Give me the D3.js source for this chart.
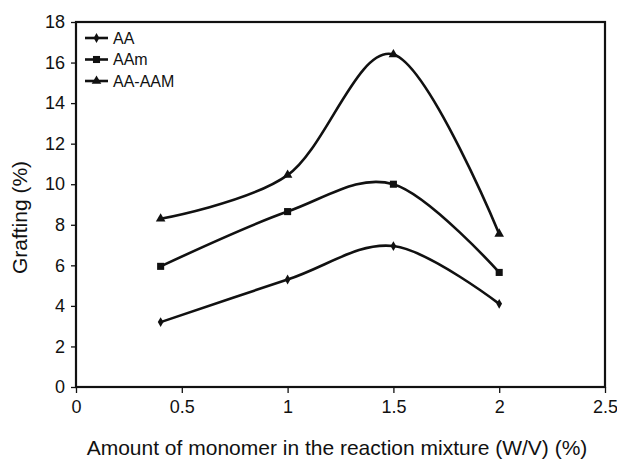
<!DOCTYPE html>
<html>
<head>
<meta charset="utf-8">
<script src="https://cdn.jsdelivr.net/npm/d3@7"></script>
<style>
  body { margin: 0; background: #fff; }
  text { font-family: "Liberation Sans", Arial, sans-serif; fill: #111; }
</style>
</head>
<body>
<div id="chart"></div>
<script>
// values
const monomer = [0.4, 1, 1.5, 2];
const aa = [3.2, 5.3, 6.95, 4.1];
const aam = [5.95, 8.65, 10.0, 5.65];
const aaAam = [8.3, 10.45, 16.4, 7.55];
const seriesNames = ["AA", "AAm", "AA-AAM"];
const xTicks = [0, 0.5, 1, 1.5, 2, 2.5];
const yTicks = [0, 2, 4, 6, 8, 10, 12, 14, 16, 18];

const width = 617, height = 468;
const margin = { top: 22, right: 12, bottom: 81, left: 76 };

const svg = d3.select("#chart").append("svg")
  .attr("width", width)
  .attr("height", height);

const x = d3.scaleLinear().domain([0, 2.5])
  .range([margin.left, width - margin.right]);
const y = d3.scaleLinear().domain([0, 18])
  .range([height - margin.bottom, margin.top]);

// axes
const xAxis = d3.axisBottom(x).tickValues(xTicks).tickSize(6).tickPadding(7)
  .tickFormat(d3.format("~g"));
const yAxis = d3.axisLeft(y).tickValues(yTicks).tickSize(5).tickPadding(6);

const gx = svg.append("g")
  .attr("transform", `translate(0,${height - margin.bottom})`)
  .call(xAxis);
const gy = svg.append("g")
  .attr("transform", `translate(${margin.left},0)`)
  .call(yAxis);

[gx, gy].forEach(g => {
  g.select(".domain").remove();
  g.selectAll(".tick line").attr("stroke", "#111").attr("stroke-width", 1.3);
  g.selectAll(".tick text").attr("font-size", 18).style("fill", "#111");
});

// frame
svg.append("rect")
  .attr("x", x(0)).attr("y", y(18))
  .attr("width", x(2.5) - x(0)).attr("height", y(0) - y(18))
  .attr("fill", "none").attr("stroke", "#111").attr("stroke-width", 2.2);

// titles
svg.append("text")
  .attr("x", 337).attr("y", 455)
  .attr("text-anchor", "middle").attr("font-size", 21)
  .text("Amount of monomer in the reaction mixture (W/V) (%)");

svg.append("text")
  .attr("transform", `translate(27,${(y(0) + y(18)) / 2 + 13}) rotate(-90)`)
  .attr("text-anchor", "middle").attr("font-size", 21)
  .text("Grafting (%)");

// series
const series = [aa, aam, aaAam].map((vals, i) => ({
  name: seriesNames[i],
  points: monomer.map((m, j) => ({ m: m, v: vals[j] }))
}));

const symbols = [
  d3.symbol().type(d3.symbolDiamond).size(28),
  d3.symbol().type(d3.symbolSquare).size(50),
  d3.symbol().type(d3.symbolTriangle).size(40)
];

const line = d3.line()
  .x(d => x(d.m))
  .y(d => y(d.v))
  .curve(d3.curveCardinal.tension(0));

const plot = svg.append("g");

series.forEach((s, i) => {
  plot.append("path")
    .datum(s.points)
    .attr("fill", "none")
    .attr("stroke", "#111")
    .attr("stroke-width", 2.6)
    .attr("d", line);

  plot.selectAll(null)
    .data(s.points)
    .join("path")
    .attr("transform", d => `translate(${x(d.m)},${y(d.v)})`)
    .attr("d", symbols[i])
    .attr("fill", "#111");
});

// legend
const legend = svg.append("g").attr("transform", "translate(85,38)");
seriesNames.forEach((name, i) => {
  const row = legend.append("g").attr("transform", `translate(0,${i * 21.5})`);
  row.append("line")
    .attr("x1", 0).attr("x2", 23)
    .attr("stroke", "#111").attr("stroke-width", 2.6);
  row.append("path")
    .attr("transform", "translate(11.5,0)")
    .attr("d", symbols[i])
    .attr("fill", "#111");
  row.append("text")
    .attr("x", 28).attr("dy", "0.35em")
    .attr("font-size", 16)
    .text(name);
});
</script>
</body>
</html>
